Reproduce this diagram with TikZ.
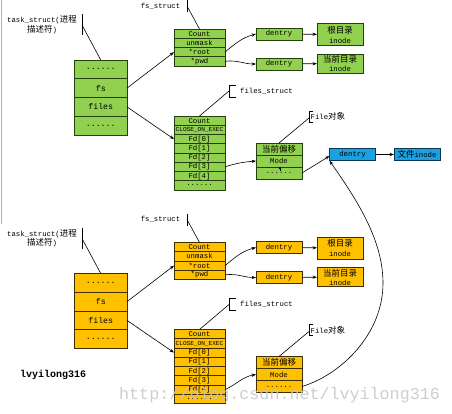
\documentclass[tikz,border=0pt]{standalone}
\usepackage{fontspec}
\setmainfont{Liberation Mono}
\newfontfamily\cjk{Noto Sans CJK SC}
\usetikzlibrary{arrows.meta}
\definecolor{gfill}{HTML}{92D050}
\definecolor{gdraw}{HTML}{24400C}
\definecolor{ofill}{HTML}{FFC000}
\definecolor{odraw}{HTML}{3F2E00}
\definecolor{bfill}{HTML}{1BA1E2}
\definecolor{bdraw}{HTML}{0B3550}
\newcommand\bxf{\fontsize{7.3}{9.5}\selectfont}
\newcommand\cjf{\cjk\fontsize{8.5}{9.5}\selectfont}
\newcommand\sixdots{......}
\newcommand\closeexec{{\fontsize{6.1}{7}\selectfont CLOSE\_ON\_EXEC}}
\tikzset{
  cell/.style={draw, line width=0.8pt, inner sep=0pt, outer sep=0pt, font=\bxf},
  arr/.style={-{Stealth[length=4.5pt,width=3.2pt]}, line width=0.6pt},
  lead/.style={line width=0.6pt}
}
\newcommand\drawpanel[3]{%
  % task_struct box
  \foreach \lbl [count=\i] in {\sixdots,fs,files,\sixdots}
    \node[cell,fill=#2,draw=#3,minimum width=52.5pt,minimum height=18.75pt,font=\fontsize{8.3}{9}\selectfont] (#1t\i) at (100.75,{60+18.75*(\i-0.5)}) {\lbl};
  % fs_struct box
  \foreach \lbl [count=\i] in {Count,unmask,*root,*pwd}
    \node[cell,fill=#2,draw=#3,minimum width=51pt,minimum height=9.25pt] (#1f\i) at (199.5,{29+9.25*(\i-0.5)}) {\lbl};
  % files_struct box
  \foreach \lbl [count=\i] in {Count,\closeexec,{Fd[0]},{Fd[1]},{Fd[2]},{Fd[3]},{Fd[4]},\sixdots}
    \node[cell,fill=#2,draw=#3,minimum width=51pt,minimum height=9.25pt] (#1g\i) at (199.5,{116+9.25*(\i-0.5)}) {\lbl};
  % dentries and inodes
  \node[cell,fill=#2,draw=#3,minimum width=46pt,minimum height=12pt] (#1d1) at (279,34) {dentry};
  \node[cell,fill=#2,draw=#3,minimum width=46pt,minimum height=12pt] (#1d2) at (279,64) {dentry};
  \node[cell,fill=#2,draw=#3,minimum width=46pt,minimum height=22pt,align=center,font=\fontsize{7.3}{10}\selectfont] (#1i1) at (340,34.5) {{\cjf 根目录}\\inode};
  \node[cell,fill=#2,draw=#3,minimum width=46pt,minimum height=19pt,align=center,font=\fontsize{7.3}{9}\selectfont] (#1i2) at (340,63.5) {{\cjf 当前目录}\\inode};
  % file object box
  \node[cell,fill=#2,draw=#3,minimum width=46pt,minimum height=12pt] (#1m1) at (279,149) {\cjf 当前偏移};
  \node[cell,fill=#2,draw=#3,minimum width=46pt,minimum height=12pt] (#1m2) at (279,161) {Mode};
  \node[cell,fill=#2,draw=#3,minimum width=46pt,minimum height=12pt] (#1m3) at (279,173) {\sixdots};
  % connectors
  \draw[arr] (#1t2.east) -- (#1f3.west);
  \draw[arr] (#1t3.east) -- (#1g3.west);
  \draw[arr] (#1f3.east) to[out=40,in=195] (#1d1.west);
  \draw[arr] (#1f4.east) to[out=8,in=180] (#1d2.west);
  \draw[arr] (#1d1) -- (#1i1);
  \draw[arr] (#1d2) -- (#1i2);
  % labels
  \node[font=\bxf,align=center,inner sep=0pt] (#1lt) at (42,24.5) {task\_struct({\cjf 进程}\\{\cjf 描述符})};
  \draw[lead] (82,14) -- (82,35);
  \draw[lead] (82,25) -- (#1t1.north);
  \node[font=\bxf,inner sep=0pt] (#1lf) at (160.5,6) {fs\_struct};
  \draw[lead] (187,0) -- (187,12);
  \draw[lead] (187,6) -- (#1f1.north);
  \node[font=\bxf,anchor=west,inner sep=0pt] (#1lg) at (240,91) {files\_struct};
  \draw[lead] (236,85) -| (229,97) -- (236,97);
  \draw[lead] (229,91) -- (#1g1.north);
  \node[font=\bxf,anchor=west,inner sep=0pt] (#1lm) at (310.5,116.5) {File{\cjf 对象}};
  \draw[lead] (313,111) -| (309,122) -- (313,122);
  \draw[lead] (309,118) -- (#1m1.north);
}
\begin{document}
\begin{tikzpicture}[x=1pt,y=-1pt]
\useasboundingbox (0,0) rectangle (452,414);
\fill[white] (0,0) rectangle (452,414);
\draw[gray!60,line width=1pt] (1,0) -- (1,224);
\begin{scope}
\drawpanel{T}{gfill}{gdraw}
\end{scope}
\begin{scope}[shift={(0,213.5)}]
\drawpanel{B}{ofill}{odraw}
\end{scope}
% fd -> file object
\draw[arr] (Tg6.east) to[out=18,in=185] (Tm2.west);
\draw[arr] (Bg7.east) to[out=25,in=190] (Bm2.west);
% small tip in top file box
\draw[-{Stealth[length=3pt,width=2.6pt]},line width=0.5pt] (280,171.5) -- (280,166.5);
% blue dentry / inode
\node[cell,fill=bfill,draw=bdraw,minimum width=46pt,minimum height=12.5pt] (bd) at (352.5,154.5) {dentry};
\node[cell,fill=bfill,draw=bdraw,minimum width=46pt,minimum height=12.5pt] (bi) at (417,154.5) {{\cjf 文件}inode};
\draw[arr] (bd) -- (bi);
\draw[arr] (Tm3.east) -- ([yshift=-1.5pt]bd.west);
\draw[arr] (Bm3.east) .. controls (340,375) and (383,335) .. (383,283) .. controls (383,240) and (357,200) .. (bd.south west);
% texts
\node[font=\fontsize{10}{12}\selectfont\bfseries,anchor=west,inner sep=0pt] (author) at (20,375) {lvyilong316};
\node[font=\fontsize{16.7}{18}\selectfont,text=gray!45,opacity=0.85,anchor=base west,inner sep=0pt] (wmark) at (119,399) {http://blog.csdn.net/lvyilong316};
\end{tikzpicture}
\end{document}
